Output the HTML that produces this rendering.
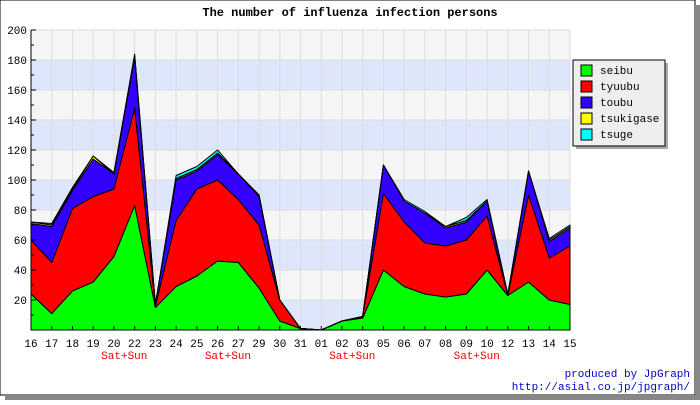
<!DOCTYPE html>
<html><head><meta charset="utf-8"><style>
body{margin:0;background:#fff;}
svg text{font-family:"Liberation Mono","DejaVu Sans Mono",monospace;}
</style></head><body>
<svg id="chart" width="700" height="400" xmlns="http://www.w3.org/2000/svg">
<rect x="0" y="0" width="695" height="395" fill="#fff" stroke="#000"/>
<rect x="695" y="5" width="5" height="395" fill="#888"/>
<rect x="5" y="395" width="695" height="5" fill="#888"/>
<text x="350" y="16" text-anchor="middle" font-size="12" font-weight="bold">The number of influenza infection persons</text>
<g id="bands"></g><g id="grid"></g><g id="areas"></g><g id="axes"></g>
<g>
<rect x="576" y="63" width="92" height="86" fill="#aaa"/>
<rect x="573" y="60" width="92" height="86" fill="#eee" stroke="#000"/>
<g id="legend-items"></g>
</g>
<text x="690" y="377" text-anchor="end" font-size="11" fill="#00c">produced by JpGraph</text>
<text x="690" y="390" text-anchor="end" font-size="11" fill="#00c">http://asial.co.jp/jpgraph/</text>
</svg>
<script>
const categories=["16","17","18","19","20","22","23","24","25","26","27","29","30","31","01","02","03","05","06","07","08","09","10","12","13","14","15"];
const seibu=[24,11,26,32,49,83,15,29,36,46,45,28,6,1,0,6,8,40,29,24,22,24,40,23,32,20,17];
const tyuubu=[36,34,55,57,45,65,1,44,58,54,42,42,14,0,0,0,1,51,43,34,34,36,36,0,58,28,39];
const toubu=[11,24,12,25,10,34,1,27,12,17,17,19,0,0,0,0,0,19,14,20,12,12,10,0,16,11,12];
const tsukigase=[1,1,1,2,0,1,0,1,1,1,0,1,0,0,0,0,0,0,0,0,1,1,0,0,0,1,1];
const tsuge=[0,1,1,0,1,1,0,2,2,2,0,0,0,0,0,0,0,0,1,1,0,2,1,1,0,1,1];
const weekendLabels=[{i:4.5,t:"Sat+Sun"},{i:9.5,t:"Sat+Sun"},{i:15.5,t:"Sat+Sun"},{i:21.5,t:"Sat+Sun"}];
const yTicks=[20,40,60,80,100,120,140,160,180,200];
const seriesNames=["seibu","tyuubu","toubu","tsukigase","tsuge"];
const seriesColors=["#00ff00","#ff0000","#3300ff","#ffff00","#00ffff"];
const series=[seibu,tyuubu,toubu,tsukigase,tsuge];
const L=31,R=570,T=30,B=330,NS="http://www.w3.org/2000/svg";
const X=i=>L+(R-L)*i/(categories.length-1);
const Y=v=>B-(B-T)*v/200;
function mk(tag,attrs,parent,text){const e=document.createElementNS(NS,tag);for(const k in attrs)e.setAttribute(k,attrs[k]);if(text!==undefined)e.textContent=text;parent.appendChild(e);return e;}
const bands=document.getElementById('bands'),grid=document.getElementById('grid'),areas=document.getElementById('areas'),axes=document.getElementById('axes'),leg=document.getElementById('legend-items');
for(let v=0;v<200;v+=20){const r=mk('rect',{x:L,y:Y(v+20),width:R-L,height:Y(v)-Y(v+20),fill:(v/20)%2?'#f5f5f5':'#dde6fb'},bands);

}
// weekend-looking: bands alternate; top band blue
categories.forEach((c,i)=>{mk('line',{x1:X(i),x2:X(i),y1:T,y2:B,stroke:'#ddd'},grid);});
yTicks.forEach(v=>{mk('line',{x1:L,x2:R,y1:Y(v),y2:Y(v),stroke:'#ddd'},grid);});
let cum=categories.map(()=>0);
series.forEach((s,k)=>{const top=cum.map((c,i)=>c+s[i]);
let d='M'+categories.map((_,i)=>X(i)+','+Y(top[i])).join(' L');
for(let i=categories.length-1;i>=0;i--)d+=' L'+X(i)+','+Y(cum[i]);d+='Z';
const p=mk('path',{d:d,fill:seriesColors[k],stroke:'#000','stroke-width':1,'stroke-linejoin':'round'},areas);


cum=top;
const ly=70+k*16;
const sw=mk('rect',{x:581,y:ly-5,width:11,height:11,fill:seriesColors[k],stroke:'#000'},leg);


const lt=mk('text',{x:600,y:ly+4,'font-size':11},leg,seriesNames[k]);

});
mk('line',{x1:L,x2:L,y1:T,y2:B,stroke:'#000'},axes);
mk('line',{x1:L,x2:R,y1:B,y2:B,stroke:'#000'},axes);
yTicks.forEach(v=>{mk('line',{x1:L,x2:L+5,y1:Y(v),y2:Y(v),stroke:'#000'},axes);mk('line',{x1:L,x2:L+3,y1:Y(v-10),y2:Y(v-10),stroke:'#000'},axes);
const t=mk('text',{x:L-4,y:Y(v)+4,'text-anchor':'end','font-size':11},axes,String(v));

});
categories.forEach((c,i)=>{mk('line',{x1:X(i),x2:X(i),y1:B,y2:B-4,stroke:'#000'},axes);
const t=mk('text',{x:X(i),y:B+17,'text-anchor':'middle','font-size':11},axes,c);

});
weekendLabels.forEach(w=>{const t=mk('text',{x:X(w.i),y:B+29,'text-anchor':'middle','font-size':11,fill:'#f00'},axes,w.t);

});
</script>
</body></html>
